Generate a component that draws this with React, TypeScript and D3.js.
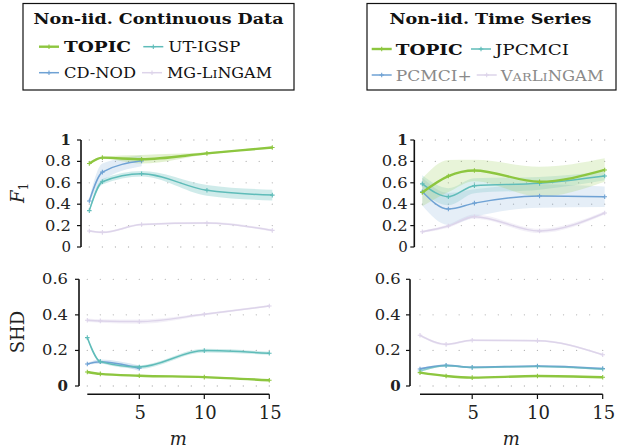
import React from 'react';
import * as d3 from 'd3';

// ---------- data ----------
const mCont = [1, 2, 5, 10, 15];
const mTS = [1, 3, 5, 10, 15];

// Non-iid continuous data, F1
const f1TopicCont = [0.78, 0.835, 0.82, 0.875, 0.93];
const f1TopicContSd = [0.015, 0.01, 0.04, 0.01, 0.01];
const f1UtIgsp = [0.34, 0.61, 0.685, 0.53, 0.485];
const f1UtIgspSd = [0.015, 0.025, 0.025, 0.05, 0.05];
const f1CdNod = [0.43, 0.7, 0.805];
const f1CdNodSd = [0.02, 0.08, 0.05];
const f1MgLingam = [0.15, 0.137, 0.21, 0.224, 0.155];
const f1MgLingamSd = [0.01, 0.01, 0.01, 0.01, 0.01];

// Non-iid continuous data, SHD
const shdTopicCont = [0.079, 0.068, 0.058, 0.05, 0.032];
const shdTopicContSd = [0.005, 0.005, 0.005, 0.005, 0.005];
const shdUtIgsp = [0.272, 0.137, 0.107, 0.199, 0.184];
const shdUtIgspSd = [0.004, 0.008, 0.01, 0.01, 0.008];
const shdCdNod = [0.124, 0.137, 0.1];
const shdCdNodSd = [0.005, 0.012, 0.015];
const shdMgLingam = [0.37, 0.366, 0.362, 0.403, 0.45];
const shdMgLingamSd = [0.01, 0.01, 0.012, 0.006, 0.005];

// Non-iid time series, F1
const f1TopicTS = [0.51, 0.663, 0.715, 0.61, 0.72];
const f1TopicTSSd = [0.13, 0.15, 0.1, 0.14, 0.11];
const f1Jpcmci = [0.59, 0.47, 0.573, 0.595, 0.663];
const f1JpcmciSd = [0.08, 0.08, 0.07, 0.06, 0.04];
const f1Pcmci = [0.517, 0.355, 0.41, 0.477, 0.47];
const f1PcmciSd = [0.13, 0.15, 0.13, 0.11, 0.095];
const f1VarLingam = [0.143, 0.196, 0.283, 0.15, 0.318];
const f1VarLingamSd = [0.01, 0.015, 0.02, 0.02, 0.015];

// Non-iid time series, SHD
const shdTopicTS = [0.075, 0.056, 0.047, 0.056, 0.049];
const shdTopicTSSd = [0.005, 0.004, 0.004, 0.004, 0.004];
const shdJpcmci = [0.084, 0.114, 0.104, 0.11, 0.094];
const shdJpcmciSd = [0.005, 0.005, 0.004, 0.004, 0.004];
const shdPcmci = [0.096, 0.116, 0.105, 0.112, 0.098];
const shdPcmciSd = [0.005, 0.005, 0.004, 0.004, 0.004];
const shdVarLingam = [0.285, 0.234, 0.257, 0.255, 0.176];
const shdVarLingamSd = [0.006, 0.006, 0.005, 0.005, 0.005];

const f1Ticks = [0, 0.2, 0.4, 0.6, 0.8, 1];
const f1TickLabels = ['0', '0.2', '0.4', '0.6', '0.8', '1'];
const shdTicks = [0, 0.2, 0.4, 0.6];
const shdTickLabels = ['0', '0.2', '0.4', '0.6'];
const xTicks = [5, 10, 15];
const gridX = d3.range(1, 16);

// ---------- styles ----------
const GREEN = '#8dc63f';
const TEAL = '#5fbcb9';
const BLUE = '#6fa2d4';
const LAV = '#ddd4ea';
const SERIF = '"DejaVu Serif", "Liberation Serif", serif';

type Series = { xs: number[]; ys: number[]; sd: number[]; color: string; width: number; bandOp: number; lineOp: number };

function mk(xs: number[], ys: number[], sd: number[], color: string, width = 1.5, bandOp = 0.25, lineOp = 1): Series {
  return { xs, ys, sd, color, width, bandOp, lineOp };
}

const contF1: Series[] = [
  mk(mCont, f1MgLingam, f1MgLingamSd, LAV, 1.5, 0.35),
  mk(mCont.slice(0, 3), f1CdNod, f1CdNodSd, BLUE, 1.5, 0.2),
  mk(mCont, f1UtIgsp, f1UtIgspSd, TEAL, 1.5, 0.3),
  mk(mCont, f1TopicCont, f1TopicContSd, GREEN, 2.4, 0.25),
];
const contSHD: Series[] = [
  mk(mCont, shdMgLingam, shdMgLingamSd, LAV, 1.5, 0.35),
  mk(mCont.slice(0, 3), shdCdNod, shdCdNodSd, BLUE, 1.5, 0.25),
  mk(mCont, shdUtIgsp, shdUtIgspSd, TEAL, 1.5, 0.3),
  mk(mCont, shdTopicCont, shdTopicContSd, GREEN, 2.4, 0.25),
];
const tsF1: Series[] = [
  mk(mTS, f1VarLingam, f1VarLingamSd, LAV, 1.5, 0.35),
  mk(mTS, f1Pcmci, f1PcmciSd, BLUE, 1.5, 0.18),
  mk(mTS, f1Jpcmci, f1JpcmciSd, TEAL, 1.5, 0.22),
  mk(mTS, f1TopicTS, f1TopicTSSd, GREEN, 2.4, 0.2),
];
const tsSHD: Series[] = [
  mk(mTS, shdVarLingam, shdVarLingamSd, LAV, 1.5, 0.35),
  mk(mTS, shdPcmci, shdPcmciSd, BLUE, 1.8, 0.25),
  mk(mTS, shdJpcmci, shdJpcmciSd, TEAL, 1.5, 0.25, 0.6),
  mk(mTS, shdTopicTS, shdTopicTSSd, GREEN, 2.4, 0.25),
];

type PanelProps = {
  series: Series[];
  xRange: [number, number];
  yRange: [number, number];
  yMax: number;
  axisX: number;
  labelRight: number;
  ticks: number[];
  tickLabels: string[];
  boldLabel: string;
  xAxis?: boolean;
};

function Plus({ x, y, color }: { x: number; y: number; color: string }) {
  const s = 2.3;
  return <path d={`M${x - s},${y}H${x + s}M${x},${y - s}V${y + s}`} stroke={color} strokeWidth={1.1} />;
}

function Panel(p: PanelProps) {
  const x = d3.scaleLinear().domain([1, 15]).range(p.xRange);
  const y = d3.scaleLinear().domain([0, p.yMax]).range(p.yRange);
  const curve = d3.curveMonotoneX;
  return (
    <g>
      {p.ticks.map((t, i) => (
        <g key={'g' + i}>
          {gridX.map((gx) => (
            <circle key={gx} cx={x(gx)} cy={y(t)} r={0.65} fill="#b5b5b5" />
          ))}
        </g>
      ))}
      {p.series.map((s, i) => {
        const pts = s.xs.map((v, j) => ({ x: v, y: s.ys[j], sd: s.sd[j] }));
        const area = d3
          .area<any>()
          .x((d) => x(d.x))
          .y0((d) => y(d.y - d.sd))
          .y1((d) => y(d.y + d.sd))
          .curve(curve);
        return <path key={'a' + i} d={area(pts) || ''} fill={s.color} opacity={s.bandOp} />;
      })}
      {p.series.map((s, i) => {
        const pts = s.xs.map((v, j) => ({ x: v, y: s.ys[j] }));
        const line = d3
          .line<any>()
          .x((d) => x(d.x))
          .y((d) => y(d.y))
          .curve(curve);
        return (
          <g key={'l' + i} opacity={s.lineOp}>
            <path d={line(pts) || ''} fill="none" stroke={s.color} strokeWidth={s.width} />
            {pts.map((d, j) => (
              <Plus key={j} x={x(d.x)} y={y(d.y)} color={s.color} />
            ))}
          </g>
        );
      })}
      <line x1={p.axisX} x2={p.axisX} y1={y(p.yMax)} y2={y(0)} stroke="#111" strokeWidth={1.6} />
      {p.ticks.map((t, i) => {
        const lab = p.tickLabels[i];
        const long = lab.length > 1;
        return (
          <g key={'t' + i}>
            <line x1={p.axisX - 4} x2={p.axisX} y1={y(t)} y2={y(t)} stroke="#111" strokeWidth={1.2} />
            <text
              x={long ? p.labelRight - 26 : p.labelRight}
              y={y(t) + 5}
              textAnchor={long ? 'start' : 'end'}
              fontFamily={SERIF}
              fontSize={15}
              fontWeight={lab === p.boldLabel ? 'bold' : 'normal'}
              fill="#222"
              {...(long ? { textLength: 26, lengthAdjust: 'spacingAndGlyphs' } : {})}
            >
              {lab}
            </text>
          </g>
        );
      })}
      {p.xAxis && (
        <g>
          <line x1={x(1)} x2={x(15)} y1={394.3} y2={394.3} stroke="#111" strokeWidth={1.6} />
          {xTicks.map((t) => (
            <g key={t}>
              <line x1={x(t)} x2={x(t)} y1={394.3} y2={399} stroke="#111" strokeWidth={1.2} />
              <text x={x(t) + 1} y={419} textAnchor="middle" fontFamily={SERIF} fontSize={18} fill="#222">
                {t}
              </text>
            </g>
          ))}
          <text x={(x(1) + x(15)) / 2 + 0} y={445} textAnchor="middle" fontFamily={SERIF} fontStyle="italic" fontSize={18} fill="#222">
            m
          </text>
        </g>
      )}
    </g>
  );
}

function LegendEntry({ x, y, color, label, bold, grey, len, gap = 25 }: { x: number; y: number; color: string; label: React.ReactNode; bold?: boolean; grey?: boolean; len: number; gap?: number }) {
  return (
    <g>
      <line x1={x} x2={x + 20} y1={y} y2={y} stroke={color} strokeWidth={bold ? 2.4 : 1.5} />
      <Plus x={x + 10} y={y} color={color} />
      <text
        x={x + gap}
        y={y + 5.5}
        fontFamily={SERIF}
        fontSize={14.5}
        fontWeight={bold ? 'bold' : 'normal'}
        fill={grey ? '#8a8a8a' : '#111'}
        textLength={len}
        lengthAdjust="spacingAndGlyphs"
      >
        {label}
      </text>
    </g>
  );
}

export default function App() {
  return (
    <svg width={621} height={448} style={{ position: 'absolute', left: 0, top: 0, background: '#fff' }}>
      {/* Legend left */}
      <rect x={23} y={3.5} width={271} height={86.5} fill="#fff" stroke="#111" strokeWidth={1.2} />
      <text x={158.5} y={23.5} textAnchor="middle" fontFamily={SERIF} fontWeight="bold" fontSize={14} textLength={250} lengthAdjust="spacingAndGlyphs" fill="#111">
        Non-iid. Continuous Data
      </text>
      <LegendEntry x={39} y={46.7} color={GREEN} label="TOPIC" bold len={67} />
      <LegendEntry x={143.3} y={46.7} color={TEAL} label="UT-IGSP" len={72} />
      <LegendEntry x={39} y={72.7} color={BLUE} label="CD-NOD" len={72} />
      <LegendEntry
        x={142}
        y={72.7}
        color={LAV}
        len={105}
        label={
          <>
            MG-L<tspan fontSize={11.5}>I</tspan>NGAM
          </>
        }
      />

      {/* Legend right */}
      <rect x={367} y={3.5} width={249} height={86.5} fill="#fff" stroke="#111" strokeWidth={1.2} />
      <text x={490.5} y={24} textAnchor="middle" fontFamily={SERIF} fontWeight="bold" fontSize={14} textLength={202} lengthAdjust="spacingAndGlyphs" fill="#111">
        Non-iid. Time Series
      </text>
      <LegendEntry x={371.7} y={49} color={GREEN} label="TOPIC" bold len={67} gap={24} />
      <LegendEntry x={471} y={49} color={TEAL} label="JPCMCI" len={74} gap={24} />
      <LegendEntry x={371.7} y={75} color={BLUE} label="PCMCI+" grey len={76} gap={24} />
      <LegendEntry
        x={476.7}
        y={75}
        color={LAV}
        grey
        gap={24}
        len={103}
        label={
          <>
            V<tspan fontSize={11.5}>AR</tspan>L<tspan fontSize={11.5}>I</tspan>NGAM
          </>
        }
      />

      {/* Axis titles */}
      <text transform="translate(24,193) rotate(-90)" textAnchor="middle" fontFamily={SERIF} fontSize={18} fill="#222">
        <tspan fontStyle="italic">F</tspan>
        <tspan fontSize={12} dy={4}>1</tspan>
      </text>
      <text transform="translate(24,332) rotate(-90)" textAnchor="middle" fontFamily={SERIF} fontSize={18} fill="#222">
        SHD
      </text>

      <Panel series={contF1} xRange={[89.3, 272.3]} yRange={[247, 140]} yMax={1} axisX={81} labelRight={71} ticks={f1Ticks} tickLabels={f1TickLabels} boldLabel="1" />
      <Panel series={contSHD} xRange={[87.3, 269.3]} yRange={[386, 279.3]} yMax={0.6} axisX={79} labelRight={68} ticks={shdTicks} tickLabels={shdTickLabels} boldLabel="0" xAxis />
      <Panel series={tsF1} xRange={[422.3, 604.7]} yRange={[247, 140]} yMax={1} axisX={414.3} labelRight={407.7} ticks={f1Ticks} tickLabels={f1TickLabels} boldLabel="1" />
      <Panel series={tsSHD} xRange={[420, 602.7]} yRange={[386, 279.3]} yMax={0.6} axisX={410} labelRight={400.7} ticks={shdTicks} tickLabels={shdTickLabels} boldLabel="0" xAxis />
    </svg>
  );
}
